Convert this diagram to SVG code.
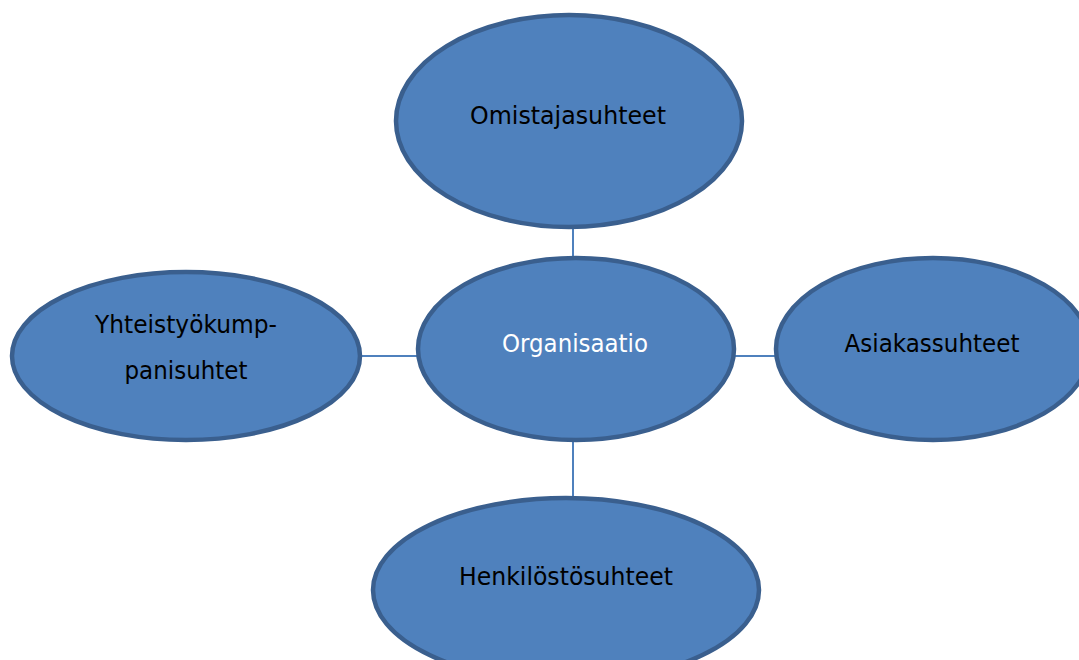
<svg xmlns="http://www.w3.org/2000/svg" width="1079" height="660" viewBox="0 0 1079 660">
<style>
.node{fill:#4F81BD;stroke:#3A5F8E;stroke-width:4.5}
.conn{stroke:#4F81BD;stroke-width:2;fill:none}
.lbl{font-family:"DejaVu Sans",sans-serif;font-size:25px;fill:#000;text-anchor:middle}
.wht{fill:#fff}
</style>
<rect width="1079" height="660" fill="#fff"/>
<g id="connectors">
<line class="conn" x1="573" y1="226" x2="573" y2="259"/>
<line class="conn" x1="573" y1="439" x2="573" y2="499"/>
<line class="conn" x1="359" y1="356" x2="419" y2="356"/>
<line class="conn" x1="734" y1="356" x2="777" y2="356"/>
</g>
<g id="omistajasuhteet">
<ellipse class="node" cx="569" cy="121" rx="173" ry="106"/>
<text class="lbl" x="568" y="124" textLength="196" lengthAdjust="spacingAndGlyphs">Omistajasuhteet</text>
</g>
<g id="organisaatio">
<ellipse class="node" cx="576" cy="349" rx="158" ry="91"/>
<text class="lbl wht" x="575" y="352" textLength="146" lengthAdjust="spacingAndGlyphs">Organisaatio</text>
</g>
<g id="yhteistyokumppanisuhtet">
<ellipse class="node" cx="186" cy="356" rx="174" ry="84"/>
<text class="lbl" x="186" y="333" textLength="182" lengthAdjust="spacingAndGlyphs">Yhteistyökump-</text>
<text class="lbl" x="186" y="379" textLength="123" lengthAdjust="spacingAndGlyphs">panisuhtet</text>
</g>
<g id="asiakassuhteet">
<ellipse class="node" cx="933" cy="349" rx="157" ry="91"/>
<text class="lbl" x="932" y="352" textLength="175" lengthAdjust="spacingAndGlyphs">Asiakassuhteet</text>
</g>
<g id="henkilostosuhteet">
<ellipse class="node" cx="566" cy="590" rx="193" ry="92"/>
<text class="lbl" x="566" y="585" textLength="214" lengthAdjust="spacingAndGlyphs">Henkilöstösuhteet</text>
</g>
</svg>
